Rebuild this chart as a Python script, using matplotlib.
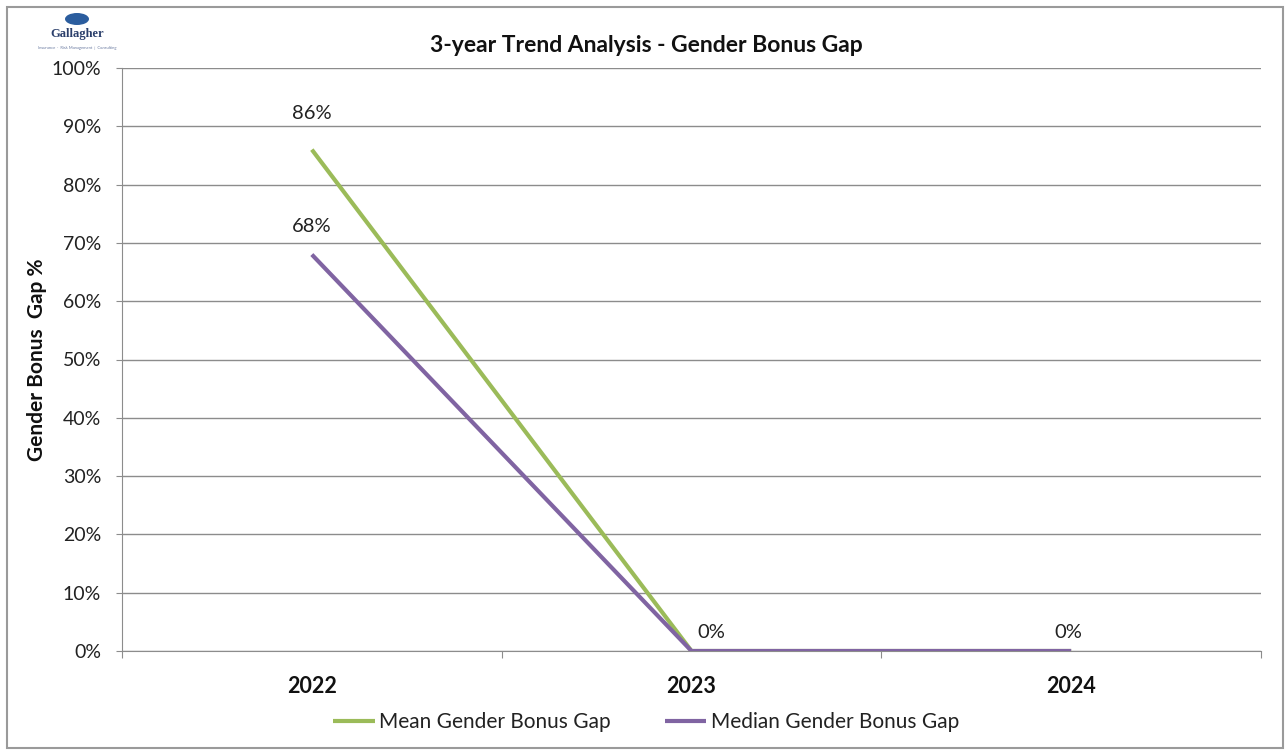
import matplotlib
matplotlib.use("Agg")
import matplotlib.pyplot as plt
from matplotlib.patches import Rectangle, Ellipse
from matplotlib.ticker import FixedLocator, NullFormatter

years = ["2022", "2023", "2024"]
mean_gap = [86, 0, 0]
median_gap = [68, 0, 0]
yticks = [0, 10, 20, 30, 40, 50, 60, 70, 80, 90, 100]
title = "3-year Trend Analysis - Gender Bonus Gap"
ylabel = "Gender Bonus  Gap %"

plt.rcParams['font.family'] = ['Lato', 'DejaVu Sans']

W, H = 1287, 751
fig = plt.figure(figsize=(W / 100, H / 100), dpi=100)
fig.patch.set_facecolor("white")

# outer border
fig.patches.append(Rectangle((7 / W, 3 / H), (1283 - 7) / W, (744 - 3) / H,
                             transform=fig.transFigure, fill=False,
                             edgecolor="#9a9a9a", lw=1.5))

ax = fig.add_axes([122 / W, 1 - 651 / H, (1261 - 122) / W, (651 - 68) / H])
x = list(range(1, len(years) + 1))
green = "#9BBB59"
purple = "#8064A2"
ax.plot(x, mean_gap, color=green, lw=3.0, solid_capstyle="butt", zorder=3,
        label="Mean Gender Bonus Gap")
ax.plot(x, median_gap, color=purple, lw=3.0, solid_capstyle="butt", zorder=4,
        label="Median Gender Bonus Gap")

ax.set_xlim(0.5, len(years) + 0.5)
ax.set_ylim(0, 100)
ax.set_yticks(yticks)
ax.set_yticklabels([f"{v}%" for v in yticks], fontsize=14, color="#222222")
ax.yaxis.grid(True, color="#8c8c8c", lw=1.0)
ax.set_axisbelow(True)
ax.xaxis.set_major_locator(FixedLocator([0.5 + i for i in range(len(years) + 1)]))
ax.xaxis.set_major_formatter(NullFormatter())
ax.xaxis.set_minor_locator(FixedLocator(x))
ax.set_xticklabels(years, minor=True, fontsize=15.5, fontweight="bold", color="#111111")
ax.tick_params(axis="x", which="minor", length=0, pad=18)
ax.tick_params(axis="x", which="major", length=5, color="#8c8c8c", direction="out")
ax.tick_params(axis="y", length=4, color="#8c8c8c", pad=11)
for s in ["top", "right"]:
    ax.spines[s].set_visible(False)
ax.spines["left"].set_color("#8c8c8c")
ax.spines["bottom"].set_color("#8c8c8c")

ax.set_ylabel(ylabel, fontsize=15, fontweight="bold", color="#111111", labelpad=3)

# data labels
lab_kw = dict(textcoords="offset points", ha="center", va="bottom", fontsize=14.5, color="#222222")
ax.annotate(f"{mean_gap[0]}%", (x[0], mean_gap[0]), xytext=(0, 20), **lab_kw)
ax.annotate(f"{median_gap[0]}%", (x[0], median_gap[0]), xytext=(0, 14), **lab_kw)
ax.annotate(f"{median_gap[1]}%", (x[1], median_gap[1]), xytext=(14, 7), **lab_kw)
ax.annotate(f"{median_gap[2]}%", (x[2], median_gap[2]), xytext=(-2, 7), **lab_kw)

fig.text(646 / W, 1 - 46 / H, title, ha="center", va="center", fontsize=16.5,
         fontweight="bold", color="#111111")

leg = fig.legend(loc="center", bbox_to_anchor=(646 / W, 1 - 722 / H), ncol=2,
                 frameon=False, fontsize=15, handlelength=2.0, handletextpad=0.2,
                 columnspacing=2.6)
for t in leg.get_texts():
    t.set_color("#222222")

# logo
fig.patches.append(Ellipse((77 / W, 1 - 19 / H), 24 / W, 12 / H, transform=fig.transFigure,
                           facecolor="#2b5d9e", edgecolor="none"))
fig.text(77 / W, 1 - 34 / H, "Gallagher", ha="center", va="center", fontsize=9,
         fontweight="bold", color="#2b3f6b", family=["Liberation Serif", "DejaVu Serif"])
fig.text(77 / W, 1 - 48 / H, "Insurance  ·  Risk Management  |  Consulting", ha="center",
         va="center", fontsize=3, color="#6a7aa0")

fig.savefig("out.png", dpi=100, facecolor="white")
